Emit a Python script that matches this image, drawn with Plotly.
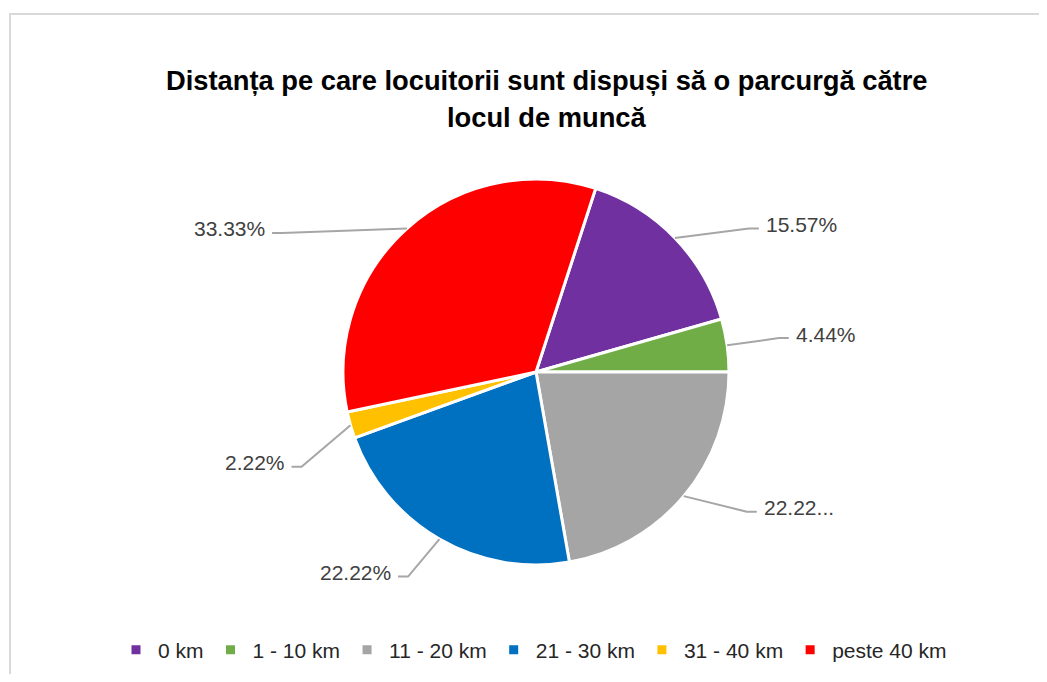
import math
import plotly.graph_objects as go

# ---- data ----
CATEGORIES = ["0 km", "1 - 10 km", "11 - 20 km", "21 - 30 km", "31 - 40 km", "peste 40 km"]
PERCENTS = [15.57, 4.44, 22.22, 22.22, 2.22, 33.33]
LABEL_TEXT = ["15.57%", "4.44%", "22.22...", "22.22%", "2.22%", "33.33%"]
TITLE_LINES = ["Distanța pe care locuitorii sunt dispuși să o parcurgă către", "locul de muncă"]

# ---- style / layout ----
COLORS = ["#7030A0", "#70AD47", "#A5A5A5", "#0070C0", "#FFC000", "#FF0000"]
OFF = 8                      # page body margin
FW, FH = 1047 - 2 * OFF, 682 - 2 * OFF
CX, CY, R = 536, 372, 193    # pie centre/radius in page pixels
ROTATION = 18
LABEL_ANGLE_SHIFT = [10, 0, -6.5, 2, -6, -19.3]
LABEL_RADIUS = [1.33, 1.27, 1.31, 1.25, 1.31, 1.50]
TEXT_COLOR = "#404040"
LEGEND_COLOR = "#262626"
LEADER_COLOR = "#A6A6A6"
FONT = "Liberation Sans"


def px(x):
    return (x - OFF) / FW


def py(y):
    return 1 - (y - OFF) / FH


fig = go.Figure(
    go.Pie(
        labels=CATEGORIES,
        values=PERCENTS,
        sort=False,
        direction="clockwise",
        rotation=ROTATION,
        marker=dict(colors=COLORS, line=dict(color="white", width=3)),
        textinfo="none",
        hoverinfo="label+percent",
        domain=dict(x=[px(CX - R), px(CX + R)], y=[py(CY + R), py(CY - R)]),
    )
)

shapes = [
    dict(type="rect", xref="paper", yref="paper",
         x0=px(10), y0=py(14), x1=1.2, y1=-0.2,
         line=dict(color="#D9D9D9", width=2), fillcolor="rgba(0,0,0,0)", layer="below")
]
annotations = []
total = sum(PERCENTS)
start = ROTATION
for i, v in enumerate(PERCENTS):
    span = v / total * 360
    mid = start + span / 2
    start += span
    a0 = math.radians(mid)
    sx, sy = CX + R * math.sin(a0), CY - R * math.cos(a0)
    a1 = math.radians(mid + LABEL_ANGLE_SHIFT[i])
    ex, ey = CX + LABEL_RADIUS[i] * R * math.sin(a1), CY - LABEL_RADIUS[i] * R * math.cos(a1)
    right = math.sin(a1) > 0
    tx = ex + 10 if right else ex - 10
    path = f"M {px(sx)},{py(sy)} L {px(ex)},{py(ey)} L {px(tx)},{py(ey)}"
    shapes.append(dict(type="path", xref="paper", yref="paper", path=path,
                       line=dict(color=LEADER_COLOR, width=2)))
    annotations.append(dict(
        x=px(tx + (5 if right else -5)), y=py(ey - 4), xref="paper", yref="paper",
        text=LABEL_TEXT[i], showarrow=False,
        xanchor="left" if right else "right", yanchor="middle",
        font=dict(family=FONT, size=21, color=TEXT_COLOR)))

for line, yc in zip(TITLE_LINES, [80, 117]):
    annotations.append(dict(
        x=px(547), y=py(yc), xref="paper", yref="paper", text=f"<b>{line}</b>",
        showarrow=False, xanchor="center", yanchor="middle",
        font=dict(family=FONT, size=27.3, color="#000000")))

fig.update_layout(
    width=FW, height=FH,
    margin=dict(l=0, r=0, t=0, b=0),
    paper_bgcolor="white", plot_bgcolor="white",
    showlegend=True,
    legend=dict(orientation="h", x=px(533), xanchor="center", y=py(650), yanchor="middle",
                itemwidth=34,
                font=dict(family=FONT, size=21, color=LEGEND_COLOR), traceorder="normal"),
    shapes=shapes,
    annotations=annotations,
)

fig.write_html("out.html")
